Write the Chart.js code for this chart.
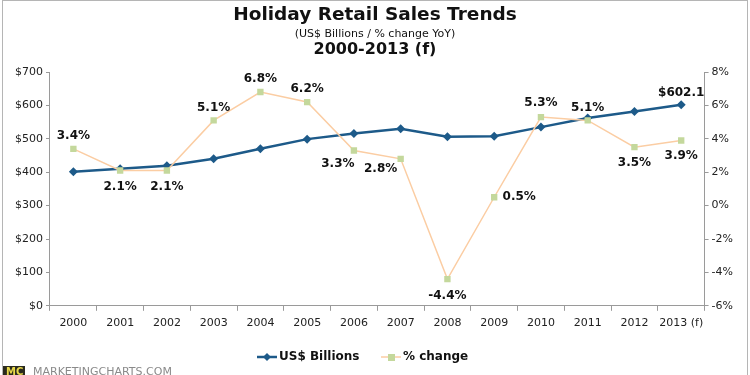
<!DOCTYPE html>
<html>
<head>
<meta charset="utf-8">
<script src="https://cdn.jsdelivr.net/npm/chart.js@4"></script>
<style>
  html, body { margin: 0; padding: 0; background: #fff; }
  #wrap { width: 750px; height: 375px; position: relative; }
</style>
</head>
<body>
<div id="wrap"><canvas id="salesChart" width="750" height="375"></canvas></div>
<script>
const years = ["2000", "2001", "2002", "2003", "2004", "2005", "2006", "2007", "2008", "2009", "2010", "2011", "2012", "2013 (f)"];
const salesBillions = [401, 410, 419, 440, 470, 499, 516, 530, 506, 508, 535, 562, 582, 602.1];
const pctChange = [3.4, 2.1, 2.1, 5.1, 6.8, 6.2, 3.3, 2.8, -4.4, 0.5, 5.3, 5.1, 3.5, 3.9];
const salesTicks = [0, 100, 200, 300, 400, 500, 600, 700];
const pctTicks = [-6, -4, -2, 0, 2, 4, 6, 8];

// where each % label sits relative to its marker [dx, dy]
const pctLabelOffsets = [[0, -13], [0, 16], [0, 16], [0, -13], [0, -13], [0, -13], [-16, 13],
  [-20, 10], [0, 17], [25, 0], [0, -14], [0, -13], [0, 16], [0, 15]];

const BLUE = "#1d5a89";
const PEACH = "#fbcda3";
const GREEN = "#c4d89c";
const AXIS = "#9a9a9a";
const FONT = "'DejaVu Sans', Verdana, sans-serif";

const headerAndLabels = {
  id: "headerAndLabels",
  afterDatasetsDraw(chart) {
    const ctx = chart.ctx;
    ctx.save();
    ctx.fillStyle = "#111";
    ctx.font = "bold 12px " + FONT;
    ctx.textAlign = "center";
    ctx.textBaseline = "middle";
    const pctMeta = chart.getDatasetMeta(1);
    pctMeta.data.forEach((pt, i) => {
      const off = pctLabelOffsets[i];
      ctx.fillText(pctChange[i].toFixed(1) + "%", pt.x + off[0], pt.y + off[1]);
    });
    const usdMeta = chart.getDatasetMeta(0);
    const last = usdMeta.data[usdMeta.data.length - 1];
    ctx.fillText("$" + salesBillions[salesBillions.length - 1].toFixed(1), last.x, last.y - 12);
    ctx.restore();
  },
  afterDraw(chart) {
    const ctx = chart.ctx;
    ctx.save();
    // frame
    ctx.strokeStyle = "#b5b5b5";
    ctx.lineWidth = 1;
    ctx.strokeRect(2.5, 0.5, 745, 380);

    ctx.textAlign = "center";
    ctx.textBaseline = "middle";
    ctx.fillStyle = "#111";
    ctx.font = "bold 18.5px " + FONT;
    ctx.fillText("Holiday Retail Sales Trends", 375, 15);
    ctx.font = "11px " + FONT;
    ctx.fillText("(US$ Billions / % change YoY)", 375, 34);
    ctx.font = "bold 16px " + FONT;
    ctx.fillText("2000-2013 (f)", 375, 50);

    // legend
    const ly = 357;
    ctx.font = "bold 12px " + FONT;
    ctx.textAlign = "left";
    ctx.strokeStyle = BLUE;
    ctx.lineWidth = 2.5;
    ctx.beginPath(); ctx.moveTo(257, ly); ctx.lineTo(277, ly); ctx.stroke();
    ctx.fillStyle = BLUE;
    ctx.beginPath(); ctx.moveTo(267, ly - 4); ctx.lineTo(271, ly); ctx.lineTo(267, ly + 4); ctx.lineTo(263, ly); ctx.closePath(); ctx.fill();
    ctx.fillStyle = "#111";
    ctx.fillText("US$ Billions", 279, ly);
    ctx.strokeStyle = PEACH;
    ctx.lineWidth = 1.5;
    ctx.beginPath(); ctx.moveTo(381, ly); ctx.lineTo(401, ly); ctx.stroke();
    ctx.fillStyle = GREEN;
    ctx.fillRect(388, ly - 3, 7, 7);
    ctx.fillStyle = "#111";
    ctx.fillText("% change", 403, ly);

    // footer
    ctx.fillStyle = "#2a2a1e";
    ctx.fillRect(3, 366, 22, 10);
    ctx.fillStyle = "#e8d84a";
    ctx.font = "bold 10px " + FONT;
    ctx.fillText("MC", 6, 372);
    ctx.fillStyle = "#8a8a8a";
    ctx.font = "11px " + FONT;
    ctx.fillText("MARKETINGCHARTS.COM", 33, 372);
    ctx.restore();
  }
};

const tickFont = { family: FONT, size: 11 };

new Chart(document.getElementById("salesChart"), {
  type: "line",
  data: {
    labels: years,
    datasets: [
      {
        label: "US$ Billions",
        data: salesBillions,
        yAxisID: "y",
        borderColor: BLUE,
        backgroundColor: BLUE,
        borderWidth: 2.5,
        pointStyle: "rectRot",
        pointRadius: 4.5,
        pointBorderWidth: 0,
        tension: 0,
        order: 2
      },
      {
        label: "% change",
        data: pctChange,
        yAxisID: "y1",
        borderColor: PEACH,
        backgroundColor: GREEN,
        pointBorderColor: GREEN,
        borderWidth: 1.5,
        pointStyle: "rect",
        pointRadius: 4.5,
        pointBorderWidth: 0,
        tension: 0,
        order: 1
      }
    ]
  },
  options: {
    responsive: false,
    animation: false,
    devicePixelRatio: 1,
    layout: { padding: { top: 72, left: 12, right: 14, bottom: 39 } },
    plugins: {
      legend: { display: false },
      tooltip: { enabled: false }
    },
    scales: {
      x: {
        offset: true,
        grid: { display: true, drawOnChartArea: false, offset: true, color: AXIS, tickLength: 5 },
        border: { color: AXIS },
        ticks: { font: tickFont, color: "#222", padding: 6, maxRotation: 0, autoSkip: false }
      },
      y: {
        position: "left",
        min: 0,
        max: 700,
        afterBuildTicks: (axis) => { axis.ticks = salesTicks.map(v => ({ value: v })); },
        grid: { drawOnChartArea: false, color: AXIS, tickLength: 4 },
        border: { color: AXIS },
        ticks: { font: tickFont, color: "#222", padding: 3, callback: v => "$" + v }
      },
      y1: {
        position: "right",
        min: -6,
        max: 8,
        afterBuildTicks: (axis) => { axis.ticks = pctTicks.map(v => ({ value: v })); },
        grid: { drawOnChartArea: false, color: AXIS, tickLength: 4 },
        border: { color: AXIS },
        ticks: { font: tickFont, color: "#222", padding: 3, callback: v => v + "%" }
      }
    }
  },
  plugins: [headerAndLabels]
});
</script>
</body>
</html>
